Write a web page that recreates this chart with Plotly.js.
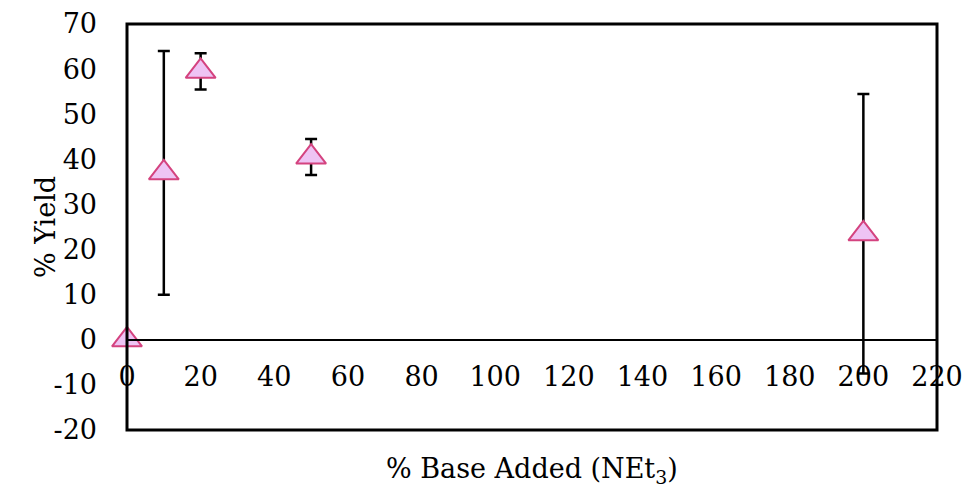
<!DOCTYPE html>
<html>
<head>
<meta charset="utf-8">
<script src="https://cdn.plot.ly/plotly-3.0.1.min.js"></script>
<style>html,body{margin:0;padding:0;background:#fff;}#chart{width:968px;height:489px;}</style>
</head>
<body>
<div id="chart"></div>
<script>
const baseAdded = [0, 10, 20, 50, 200];
const yieldPct = [0, 37, 59.5, 40.5, 23.5];
const yieldErr = [0, 27, 4, 4, 31];
const xTickVals = [0, 20, 40, 60, 80, 100, 120, 140, 160, 180, 200, 220];
const yTickVals = [-20, -10, 0, 10, 20, 30, 40, 50, 60, 70];

const FONT = "DejaVu Serif";
const trace = {
  x: baseAdded,
  y: yieldPct,
  type: 'scatter',
  mode: 'markers',
  cliponaxis: false,
  marker: {symbol: 'triangle-up', size: 26, color: '#EEC4F4', line: {color: '#D4437F', width: 2}},
  error_y: {type: 'data', array: yieldErr, visible: true, color: '#000', thickness: 2.5, width: 6},
  hoverinfo: 'none'
};

const layout = {
  width: 968, height: 489,
  margin: {l: 127, r: 31, t: 24, b: 59},
  paper_bgcolor: '#fff', plot_bgcolor: '#fff',
  showlegend: false,
  font: {family: FONT, size: 27, color: '#000'},
  xaxis: {
    range: [0, 220], tickvals: xTickVals, ticktext: xTickVals.map(String),
    showgrid: false, zeroline: false, showline: true, linecolor: '#000', linewidth: 2,
    anchor: 'free', position: 20/90, ticks: '', ticklabelstandoff: 13,
    tickfont: {family: FONT, size: 27, color: '#000'}
  },
  yaxis: {
    range: [-20, 70], tickvals: yTickVals, ticktext: yTickVals.map(String),
    showgrid: false, zeroline: false, showline: false, ticks: '', ticklabelstandoff: 29,
    tickfont: {family: FONT, size: 27, color: '#000'}
  },
  shapes: [{type: 'rect', xref: 'paper', yref: 'paper', x0: 0, x1: 1, y0: 0, y1: 1,
    line: {color: '#000', width: 3}, layer: 'above'}],
  annotations: [
    {text: '% Base Added (NEt<sub>3</sub>)', xref: 'paper', yref: 'paper', x: 0.5, y: 0,
     yshift: -40, xanchor: 'center', yanchor: 'middle', showarrow: false,
     font: {family: FONT, size: 27, color: '#000'}},
    {text: '% Yield', xref: 'paper', yref: 'paper', x: 0, y: 0.5, xshift: -82,
     xanchor: 'center', yanchor: 'middle', textangle: -90, showarrow: false,
     font: {family: FONT, size: 27, color: '#000'}}
  ]
};

Plotly.newPlot('chart', [trace], layout, {staticPlot: true, displayModeBar: false});
</script>
</body>
</html>
